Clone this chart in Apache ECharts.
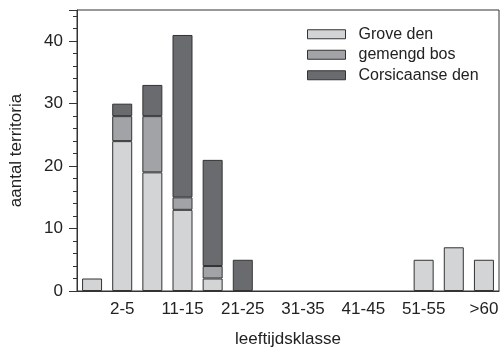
<!DOCTYPE html>
<html><head><meta charset="utf-8">
<script src="https://cdn.jsdelivr.net/npm/echarts@6/dist/echarts.min.js"></script>
<style>html,body{margin:0;padding:0;background:#fff}#c{width:504px;height:353px}</style>
</head><body><div id="c"></div>
<script>
const categories = ["0-1","2-5","6-10","11-15","16-20","21-25","26-30","31-35","36-40","41-45","46-50","51-55","56-60",">60"];
const groveDen = [2,24,19,13,2,0,0,0,0,0,0,5,7,5];
const gemengdBos = [0,4,9,2,2,0,0,0,0,0,0,0,0,0];
const corsicaanseDen = [0,2,5,26,17,5,0,0,0,0,0,0,0,0];
const seriesNames = ["Grove den","gemengd bos","Corsicaanse den"];
const colors = ["#d3d4d6","#a1a3a6","#6a6b6e"];

const FONT = "Liberation Sans";
const nz = a => a.map(v => v === 0 ? '-' : v);
const chart = echarts.init(document.getElementById('c'), null, {renderer:'canvas'});
const mk = (name, data, color) => ({
  name, type:'bar', stack:'s', data:nz(data), barWidth:20,
  itemStyle:{color, borderColor:'#333', borderWidth:1},
  emphasis:{disabled:true}
});
chart.setOption({
  animation:false,
  textStyle:{fontFamily:FONT},
  grid:{left:76, right:5, top:10, bottom:60, show:true, borderColor:'#333', borderWidth:1, containLabel:false},
  legend:{
    orient:'vertical', left:307, top:24, padding:0, itemWidth:38, itemHeight:9, itemGap:0,
    icon:'rect',
    itemStyle:{borderColor:'#333', borderWidth:1},
    textStyle:{fontFamily:FONT, fontSize:16, color:'#222', lineHeight:20.5, padding:[0,0,0,8]},
    data:seriesNames
  },
  xAxis:{
    type:'category', data:categories,
    axisLine:{lineStyle:{color:'#333', width:1}},
    axisTick:{alignWithLabel:true, length:6, interval:(i)=>i%2===1, lineStyle:{color:'#333'}},
    axisLabel:{interval:(i)=>i%2===1, fontFamily:FONT, fontSize:17, color:'#222', margin:10},
    name:'leeftijdsklasse', nameLocation:'middle', nameGap:40,
    nameTextStyle:{fontFamily:FONT, fontSize:17, color:'#222'}
  },
  yAxis:{
    type:'value', min:0, max:45, interval:10,
    axisLine:{show:true, lineStyle:{color:'#333', width:1}},
    axisTick:{show:true, length:8, lineStyle:{color:'#333'}},
    minorTick:{show:true, splitNumber:5, length:4, lineStyle:{color:'#333'}},
    splitLine:{show:false},
    axisLabel:{fontFamily:FONT, fontSize:17, color:'#222', margin:14, showMaxLabel:false},
    name:'aantal territoria', nameLocation:'middle', nameGap:52,
    nameTextStyle:{fontFamily:FONT, fontSize:17, color:'#222'}
  },
  series:[
    mk(seriesNames[0], groveDen, colors[0]),
    mk(seriesNames[1], gemengdBos, colors[1]),
    mk(seriesNames[2], corsicaanseDen, colors[2])
  ]
});
</script></body></html>
